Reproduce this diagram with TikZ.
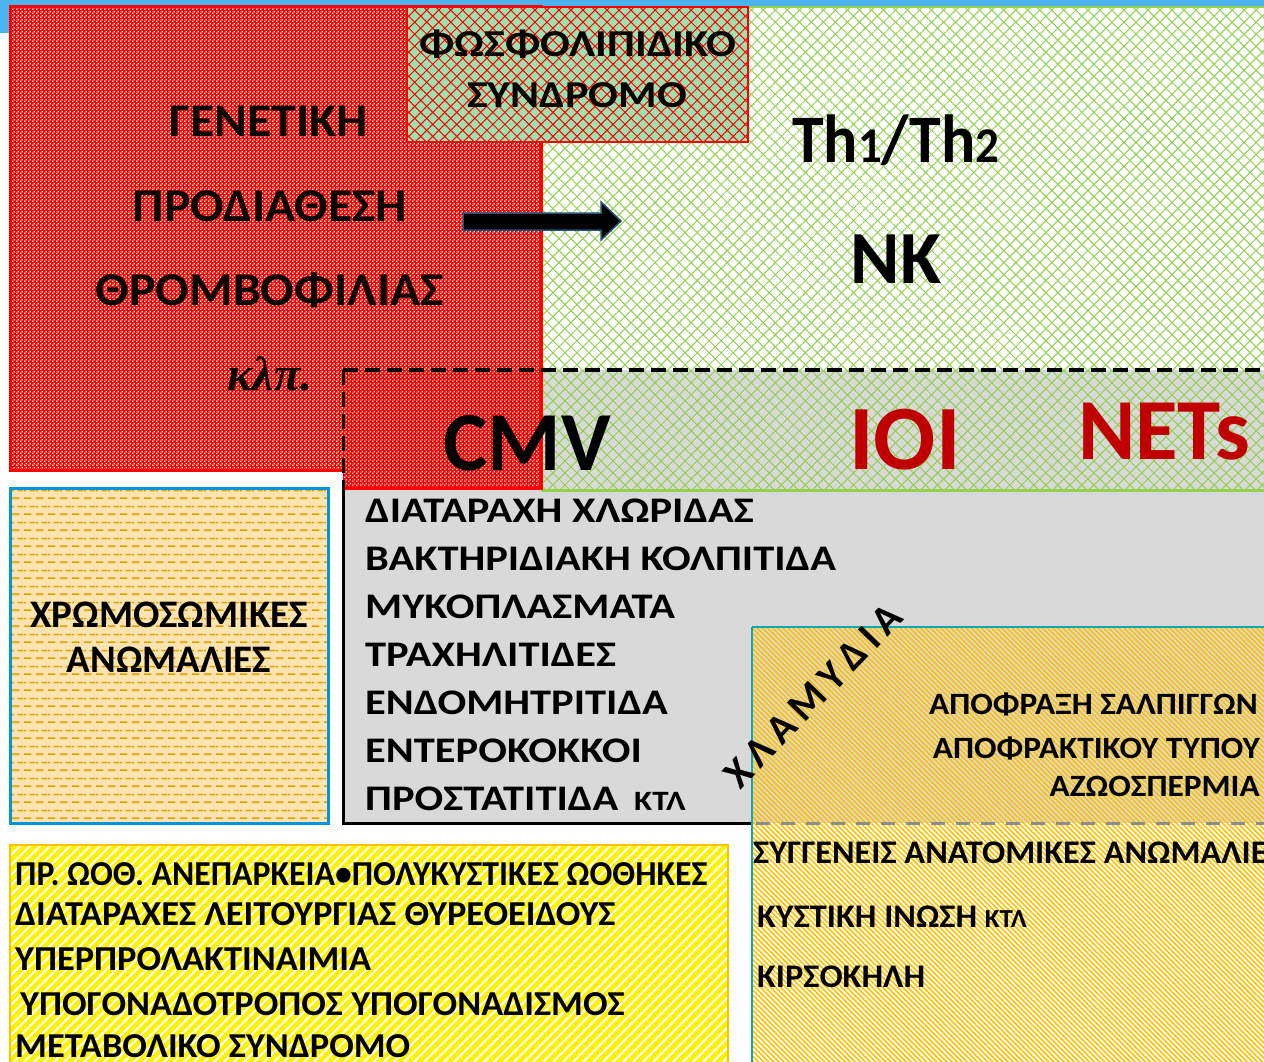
\documentclass[tikz,border=0pt]{standalone}
\usepackage{fontspec}
\setmainfont{Carlito}
\newfontfamily\fGen{Carlito}[FakeStretch=1.06]
\newfontfamily\fAps{Carlito}[FakeStretch=1.16]
\newfontfamily\fTh{Carlito}[FakeStretch=0.94]
\newfontfamily\fList{Carlito}[FakeStretch=1.18]
\newfontfamily\fTub{Carlito}[FakeStretch=1.075]
\newfontfamily\fCong{Carlito}[FakeStretch=1.04]
\newfontfamily\fYa{Carlito}[FakeStretch=0.965]
\newfontfamily\fYb{Carlito}[FakeStretch=1.04]
\newfontfamily\serifit{Liberation Serif}
\usetikzlibrary{patterns,patterns.meta}
\newcommand\myfs[1]{\fontsize{#1}{#1}\selectfont}
\definecolor{hblue}{HTML}{4BB4EE}
\definecolor{grn}{HTML}{92D050}
\definecolor{apsg}{HTML}{9CE1AF}
\definecolor{boxgray}{HTML}{D9D9D9}
\definecolor{darkred}{HTML}{C00000}
\definecolor{chromfill}{HTML}{FBE4B0}
\definecolor{chromdashc}{HTML}{E0A000}
\definecolor{chromblue}{HTML}{0095DD}
\definecolor{tealc}{HTML}{10A8A8}
\definecolor{orng}{HTML}{FFC000}
\definecolor{arrowedge}{HTML}{24527A}
\definecolor{dashgray}{HTML}{8C8C8C}
\tikzdeclarepattern{
  name=redchk, type=uncolored,
  bounding box={(0pt,0pt) and (4pt,4pt)},
  tile size={(4pt,4pt)},
  code={\fill (0pt,0pt) rectangle (1.6pt,1.6pt); \fill (2pt,2pt) rectangle (3.6pt,3.6pt);}
}
\tikzdeclarepattern{
  name=chromdash, type=uncolored,
  bounding box={(0pt,0pt) and (12pt,16pt)},
  tile size={(12pt,16pt)},
  code={\fill (0pt,3.2pt) rectangle (8pt,4.9pt); \fill (6pt,11.2pt) rectangle (12pt,12.9pt); \fill (0pt,11.2pt) rectangle (2pt,12.9pt);}
}
\tikzset{
  lbl/.style={inner sep=0pt, font=\bfseries},
  diagA/.style={pattern={Lines[angle=45,distance=#1,line width=1pt]}},
  diagB/.style={pattern={Lines[angle=-45,distance=#1,line width=1pt]}},
}
\begin{document}
\begin{tikzpicture}[x=1pt,y=-1pt]
\useasboundingbox (0,0) rectangle (1264,1062);
\fill[white] (0,0) rectangle (1264,1062);
% header
\fill[hblue] (0,0) rectangle (1264,6);
\fill[hblue] (0,0) rectangle (10,33);
% gray box background
\fill[boxgray] (343,370) rectangle (1264,823);
% green hatched region
\fill[white] (541,7) rectangle (1264,370);
\fill[diagA=8.5pt, pattern color=grn] (541,7) rectangle (1264,490);
\fill[diagB=8.5pt, pattern color=grn] (541,7) rectangle (1264,490);
\draw[grn, line width=2] (541,7) -- (1264,7);
\draw[grn, line width=3] (541,490) -- (1264,490);
% big red box
\fill[red] (10,7) rectangle (541,470);
\fill[pattern=redchk, pattern color=white] (10,7) rectangle (541,470);
\draw[red, line width=3] (10,7) rectangle (541,470);
% CMV red region
\fill[red] (343,370) rectangle (541,488);
\fill[pattern=redchk, pattern color=boxgray] (343,370) rectangle (541,488);
\draw[red, line width=3] (541,370) -- (541,488) -- (343,488);
% gray box borders
\draw[black, line width=4, dash pattern=on 15 off 7] (343,370) -- (1264,370);
\draw[black, line width=3, dash pattern=on 15 off 7] (343,370) -- (343,488);
\draw[black, line width=3] (343,488) -- (343,823) -- (752,823);
% APS box
\fill[apsg] (407,7) rectangle (748,142);
\fill[diagA=8.5pt, pattern color=red] (407,7) rectangle (748,142);
\fill[diagB=8.5pt, pattern color=red] (407,7) rectangle (748,142);
\draw[red, line width=2.5] (407,7) rectangle (748,142);
% arrow
\draw[fill=black, draw=arrowedge, line width=1.5, line join=miter]
  (463,213) -- (601,213) -- (601,202) -- (621,221) -- (601,240) -- (601,230) -- (463,230) -- cycle;
% orange hatched box
\fill[white] (752,823) rectangle (1264,1062);
\fill[pattern={Lines[angle=-45,distance=3.6pt,line width=1.6pt]}, pattern color=orng] (752,627) rectangle (1264,1062);
\draw[tealc, line width=1.2] (752,627) -- (1264,627);
\draw[tealc, line width=2.5] (752,1062) -- (752,627);
\draw[dashgray, line width=3, dash pattern=on 14 off 11] (756,823) -- (1264,823);
% chromosomal box
\fill[chromfill] (10,488) rectangle (328,823);
\fill[pattern=chromdash, pattern color=chromdashc] (10,488) rectangle (328,823);
\draw[chromblue, line width=3] (10,488) rectangle (328,823);
% yellow box
\fill[yellow] (10,845) rectangle (728,1070);
\fill[pattern={Lines[angle=45,distance=7.4pt,line width=2.6pt]}, pattern color=white] (10,845) rectangle (728,1070);
\draw[orng, line width=2.5] (10,1070) -- (10,845) -- (728,845) -- (728,1070);

% texts: genetic predisposition
\node[lbl, anchor=base] (g1) at (269,137) {\fGen\bfseries\myfs{47}ΓΕΝΕΤΙΚΗ};
\node[lbl, anchor=base] (g2) at (270,221) {\fGen\bfseries\myfs{47}ΠΡΟΔΙΑΘΕΣΗ};
\node[lbl, anchor=base] (g3) at (270,305) {\fGen\bfseries\myfs{47}ΘΡΟΜΒΟΦΙΛΙΑΣ};
\node[lbl, anchor=base] (g4) at (270,390) {\serifit\bfseries\itshape\myfs{48}κλπ.};
% APS
\node[lbl, anchor=base] (a1) at (578,57) {\fAps\bfseries\myfs{38}ΦΩΣΦΟΛΙΠΙΔΙΚΟ};
\node[lbl, anchor=base] (a2) at (577,108) {\fAps\bfseries\myfs{38}ΣΥΝΔΡΟΜΟ};
% Th / NK
\node[lbl, anchor=base west] (th) at (792,163) {\fTh\bfseries\myfs{68}Th{\myfs{50}1}/Th{\myfs{50}2}};
\node[lbl, anchor=base] (nk) at (896,283) {\myfs{75}NK};
% CMV row
\node[lbl, anchor=base] (cmv) at (527,470) {\myfs{84}CMV};
\node[lbl, anchor=base, text=darkred] (ioi) at (905,469) {\myfs{92}IOI};
\node[lbl, anchor=base, text=darkred] (nets) at (1164,459) {\myfs{87}NETs};
% gray list
\node[lbl, anchor=base west] (l1) at (365,522) {\fList\bfseries\myfs{36}ΔΙΑΤΑΡΑΧΗ ΧΛΩΡΙΔΑΣ};
\node[lbl, anchor=base west] (l2) at (365,570) {\fList\bfseries\myfs{36}ΒΑΚΤΗΡΙΔΙΑΚΗ ΚΟΛΠΙΤΙΔΑ};
\node[lbl, anchor=base west] (l3) at (365,618) {\fList\bfseries\myfs{36}ΜΥΚΟΠΛΑΣΜΑΤΑ};
\node[lbl, anchor=base west] (l4) at (365,666) {\fList\bfseries\myfs{36}ΤΡΑΧΗΛΙΤΙΔΕΣ};
\node[lbl, anchor=base west] (l5) at (365,714) {\fList\bfseries\myfs{36}ΕΝΔΟΜΗΤΡΙΤΙΔΑ};
\node[lbl, anchor=base west] (l6) at (365,762) {\fList\bfseries\myfs{36}ΕΝΤΕΡΟΚΟΚΚΟΙ};
\node[lbl, anchor=base west] (l7) at (365,810) {\fList\bfseries\myfs{36}ΠΡΟΣΤΑΤΙΤΙΔΑ\hspace{16pt}{\myfs{28}ΚΤΛ}};
% chromosomal
\node[lbl, anchor=base] (c1) at (169,627) {\myfs{39}ΧΡΩΜΟΣΩΜΙΚΕΣ};
\node[lbl, anchor=base] (c2) at (169,672) {\myfs{39}ΑΝΩΜΑΛΙΕΣ};
% chlamydia
\node[lbl, rotate=46] (chl) at (813,696) {\myfs{41}Χ\hspace{7pt}Λ\hspace{7pt}Α\hspace{7pt}Μ\hspace{7pt}Υ\hspace{7pt}Δ\hspace{7pt}Ι\hspace{7pt}Α};
% tubal
\node[lbl, anchor=base east] (t1) at (1258,714) {\fTub\bfseries\myfs{31}ΑΠΟΦΡΑΞΗ ΣΑΛΠΙΓΓΩΝ};
\node[lbl, anchor=base east] (t2) at (1260,758) {\fTub\bfseries\myfs{31}ΑΠΟΦΡΑΚΤΙΚΟΥ ΤΥΠΟΥ};
\node[lbl, anchor=base east] (t3) at (1260,796) {\fTub\bfseries\myfs{31}ΑΖΩΟΣΠΕΡΜΙΑ};
% congenital
\node[lbl, anchor=base west] (s1) at (753,863) {\fCong\bfseries\myfs{33}ΣΥΓΓΕΝΕΙΣ ΑΝΑΤΟΜΙΚΕΣ ΑΝΩΜΑΛΙΕΣ};
\node[lbl, anchor=base west] (s2) at (757,927) {\fCong\bfseries\myfs{33}ΚΥΣΤΙΚΗ ΙΝΩΣΗ {\myfs{26}ΚΤΛ}};
\node[lbl, anchor=base west] (s3) at (757,987) {\fCong\bfseries\myfs{33}ΚΙΡΣΟΚΗΛΗ};
% endocrine
\node[lbl, anchor=base west] (y1) at (15,885) {\fYa\bfseries\myfs{35}ΠΡ. ΩΟΘ. ΑΝΕΠΑΡΚΕΙΑ•ΠΟΛΥΚΥΣΤΙΚΕΣ ΩΟΘΗΚΕΣ};
\node[lbl, anchor=base west] (y2) at (15,925) {\fYb\bfseries\myfs{35}ΔΙΑΤΑΡΑΧΕΣ ΛΕΙΤΟΥΡΓΙΑΣ ΘΥΡΕΟΕΙΔΟΥΣ};
\node[lbl, anchor=base west] (y3) at (15,970) {\fYb\bfseries\myfs{35}ΥΠΕΡΠΡΟΛΑΚΤΙΝΑΙΜΙΑ};
\node[lbl, anchor=base west] (y4) at (20,1015) {\fYb\bfseries\myfs{35}ΥΠΟΓΟΝΑΔΟΤΡΟΠΟΣ ΥΠΟΓΟΝΑΔΙΣΜΟΣ};
\node[lbl, anchor=base west] (y5) at (15,1057) {\fYb\bfseries\myfs{35}ΜΕΤΑΒΟΛΙΚΟ ΣΥΝΔΡΟΜΟ};
\end{tikzpicture}
\end{document}
